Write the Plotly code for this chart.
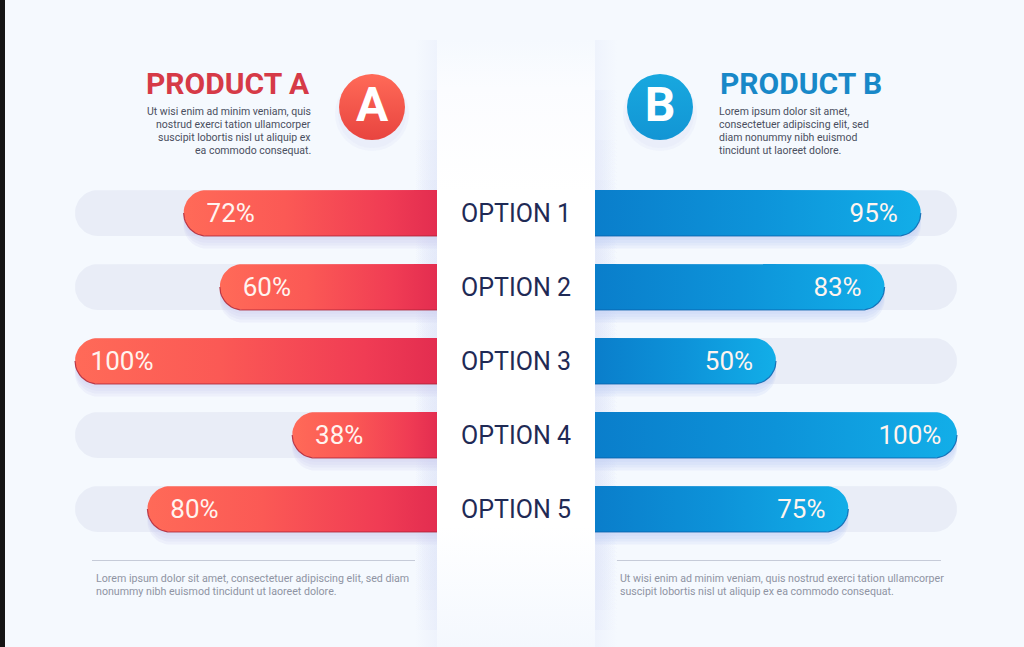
import numpy as np
import plotly.graph_objects as go

# options and what the bars show
OPTIONS = ['OPTION 1', 'OPTION 2', 'OPTION 3', 'OPTION 4', 'OPTION 5']
A_LABELS = ['72%', '60%', '100%', '38%', '80%']
B_LABELS = ['95%', '83%', '50%', '100%', '75%']
# drawn bar lengths (they differ a bit from the printed labels)
A_LENGTHS = [70, 60, 100, 40, 80]
B_LENGTHS = [90, 80, 50, 100, 70]

TITLE_A = 'PRODUCT A'
TITLE_B = 'PRODUCT B'
TEXT_A = ['Ut wisi enim ad minim veniam, quis', 'nostrud exerci tation ullamcorper',
          'suscipit lobortis nisl ut aliquip ex', 'ea commodo consequat.']
TEXT_B = ['Lorem ipsum dolor sit amet,', 'consectetuer adipiscing elit, sed',
          'diam nonummy nibh euismod', 'tincidunt ut laoreet dolore.']
FOOT_A = ['Lorem ipsum dolor sit amet, consectetuer adipiscing elit, sed diam',
          'nonummy nibh euismod tincidunt ut laoreet dolore.']
FOOT_B = ['Ut wisi enim ad minim veniam, quis nostrud exerci tation ullamcorper',
          'suscipit lobortis nisl ut aliquip ex ea commodo consequat.']

W, H = 1024, 647
FONT = 'Roboto'
BG = '#f5f9fe'
INK = '#1f2a55'

# layout of the scales, in pixels
A_ZERO = 437
B_ZERO = 595
PX_PER_PCT = 3.62
ROW_TOP = 213
ROW_STEP = 74
HALF = 23 / ROW_STEP
RADIUS = 23 / PX_PER_PCT


def pill(length, row, dy=0.0):
    # flat at 0, round at the far end
    t = np.linspace(-np.pi / 2, np.pi / 2, 25)
    x = (length - RADIUS) + RADIUS * np.cos(t)
    y = row + dy + HALF * np.sin(t)
    return [0] + list(x) + [0, 0], [row + dy - HALF] + list(y) + [row + dy + HALF, row + dy - HALF]


def under_edge(length, row):
    # lower half of the round end plus the bottom side
    t = np.linspace(0, np.pi / 2, 13)
    x = (length - RADIUS) + RADIUS * np.cos(t)
    y = row + HALF * np.sin(t)
    return list(x) + [0], list(y) + [row + HALF]


def shape_trace(x, y, xaxis, yaxis, **kw):
    return go.Scatter(x=x, y=y, xaxis=xaxis, yaxis=yaxis, mode='lines', fill='toself',
                      hoverinfo='skip', showlegend=False, **kw)


traces = []

# side shadow of the central panel, stacked so it fades towards top and bottom
for top, bottom in [(40, 647), (90, 630), (140, 610), (180, 590)]:
    traces.append(shape_trace([B_ZERO + 22, A_ZERO - 22, A_ZERO - 22, B_ZERO + 22, B_ZERO + 22],
                              [top, top, bottom, bottom, top], 'x', 'y', line=dict(width=0),
                              fillgradient=dict(type='horizontal', start=A_ZERO - 22, stop=B_ZERO + 22,
                                                colorscale=[[0, 'rgba(222,228,248,0)'], [0.11, 'rgba(222,228,248,0.3)'],
                                                            [0.89, 'rgba(222,228,248,0.3)'], [1, 'rgba(222,228,248,0)']])))
# the panel itself
traces.append(shape_trace([A_ZERO, B_ZERO, B_ZERO, A_ZERO, A_ZERO], [40, 40, H, H, 40], 'x', 'y',
                          line=dict(width=0),
                          fillgradient=dict(type='vertical', start=40, stop=H,
                                            colorscale=[[0, BG], [0.08, '#fbfcff'], [0.25, '#ffffff'],
                                                        [0.8, '#ffffff'], [1, '#f4f8fe']])))

A_SCALE = [[0, '#e32d50'], [0.2, '#f03c54'], [0.6, '#fb5955'], [1, '#ff6a58']]
B_SCALE = [[0, '#0a7ecb'], [0.5, '#0d93d9'], [1, '#12aee8']]

for lengths, labels, ax, scale, edge, shadow in [
    (A_LENGTHS, A_LABELS, 'x2', A_SCALE, 'rgba(170,32,52,0.8)', 'rgba(205,205,240,0.2)'),
    (B_LENGTHS, B_LABELS, 'x3', B_SCALE, 'rgba(8,95,170,0.8)', 'rgba(190,205,245,0.2)'),
]:
    for row, length in enumerate(lengths):
        x, y = pill(100, row)
        traces.append(shape_trace(x, y, ax, 'y2', line=dict(width=0), fillcolor='#e9edf7'))
        # soft shadow under the bar
        for dy in (0.05, 0.09, 0.13, 0.17):
            x, y = pill(length, row, dy)
            traces.append(shape_trace(x, y, ax, 'y2', line=dict(width=0), fillcolor=shadow))
        x, y = pill(length, row)
        traces.append(shape_trace(x, y, ax, 'y2', line=dict(width=0),
                                  fillgradient=dict(type='horizontal', start=0, stop=length, colorscale=scale)))
        x, y = under_edge(length, row)
        traces.append(go.Scatter(x=x, y=y, xaxis=ax, yaxis='y2', mode='lines', hoverinfo='skip', showlegend=False,
                                 line=dict(width=1.2, color=edge)))
    traces.append(go.Scatter(x=[v - 13 for v in lengths], y=[i + 2 / ROW_STEP for i in range(len(lengths))],
                             xaxis=ax, yaxis='y2', mode='text', text=labels, textposition='middle center',
                             hoverinfo='skip', showlegend=False,
                             textfont=dict(family=FONT, size=26, color='#fff4ef')))

# option names in the panel
traces.append(go.Scatter(x=[(A_ZERO + B_ZERO) / 2] * len(OPTIONS),
                         y=[ROW_TOP + 3 + ROW_STEP * i for i in range(len(OPTIONS))],
                         xaxis='x', yaxis='y', mode='text', text=OPTIONS, textposition='middle center',
                         hoverinfo='skip', showlegend=False, textfont=dict(family=FONT, size=25, color=INK)))

# badges
for cx, c1, c2, letter in [(372, '#e8443f', '#ff6a58', 'A'), (660, '#1295d4', '#18a8df', 'B')]:
    for size in (74, 68):
        traces.append(go.Scatter(x=[cx], y=[114], xaxis='x', yaxis='y', mode='markers', hoverinfo='skip',
                                 showlegend=False,
                                 marker=dict(size=size, color='rgba(205,210,240,0.14)', line=dict(width=0))))
    traces.append(go.Scatter(x=[cx], y=[107], xaxis='x', yaxis='y', mode='markers', hoverinfo='skip',
                             showlegend=False,
                             marker=dict(size=66, color=c2, gradient=dict(type='vertical', color=c1),
                                         line=dict(width=0))))
    traces.append(go.Scatter(x=[cx], y=[109], xaxis='x', yaxis='y', mode='text', text=[letter],
                             textposition='middle center', hoverinfo='skip', showlegend=False,
                             textfont=dict(family=FONT, size=48, color='#ffffff', weight='bold')))

fig = go.Figure(data=traces)


def note(px, py, text, anchor, size, color, weight='normal'):
    fig.add_annotation(x=px / W, y=1 - py / H, xref='paper', yref='paper', text=text, showarrow=False,
                       xanchor=anchor, yanchor='middle', align=anchor,
                       font=dict(family=FONT, size=size, color=color, weight=weight))


note(312, 83, TITLE_A, 'right', 30, '#d63a47', 'bold')
note(718, 83, TITLE_B, 'left', 30, '#1888c8', 'bold')
for i, line in enumerate(TEXT_A):
    note(313, 111 + i * 13.3, line, 'right', 10.5, '#4a4f60')
for i, line in enumerate(TEXT_B):
    note(717, 111 + i * 13.3, line, 'left', 10.5, '#4a4f60')
for i, line in enumerate(FOOT_A):
    note(94, 578 + i * 13.3, line, 'left', 10.65, '#8f94a3')
for i, line in enumerate(FOOT_B):
    note(618, 578 + i * 13.3, line, 'left', 10.6, '#8f94a3')

no_axis = dict(visible=False, fixedrange=True)
fig.update_layout(
    width=W, height=H, margin=dict(l=0, r=0, t=0, b=0), paper_bgcolor=BG, plot_bgcolor=BG, showlegend=False,
    xaxis=dict(range=[0, W], domain=[0, 1], **no_axis),
    yaxis=dict(range=[H, 0], domain=[0, 1], **no_axis),
    xaxis2=dict(range=[A_ZERO / PX_PER_PCT, (A_ZERO - W) / PX_PER_PCT], overlaying='x', **no_axis),
    xaxis3=dict(range=[-B_ZERO / PX_PER_PCT, (W - B_ZERO) / PX_PER_PCT], overlaying='x', **no_axis),
    yaxis2=dict(range=[(H - ROW_TOP) / ROW_STEP, -ROW_TOP / ROW_STEP], overlaying='y', **no_axis),
    shapes=[
        dict(type='rect', xref='x', yref='y', x0=0, x1=5, y0=0, y1=H, fillcolor='#151515', line=dict(width=0), layer='above'),
        dict(type='line', xref='x', yref='y', x0=92, x1=415, y0=560.5, y1=560.5, line=dict(color='#c6cbd8', width=1)),
        dict(type='line', xref='x', yref='y', x0=617, x1=941, y0=560.5, y1=560.5, line=dict(color='#c6cbd8', width=1)),
    ],
)

fig.write_html("out.html", config=dict(displayModeBar=False), post_script="document.body.style.margin='0';")
